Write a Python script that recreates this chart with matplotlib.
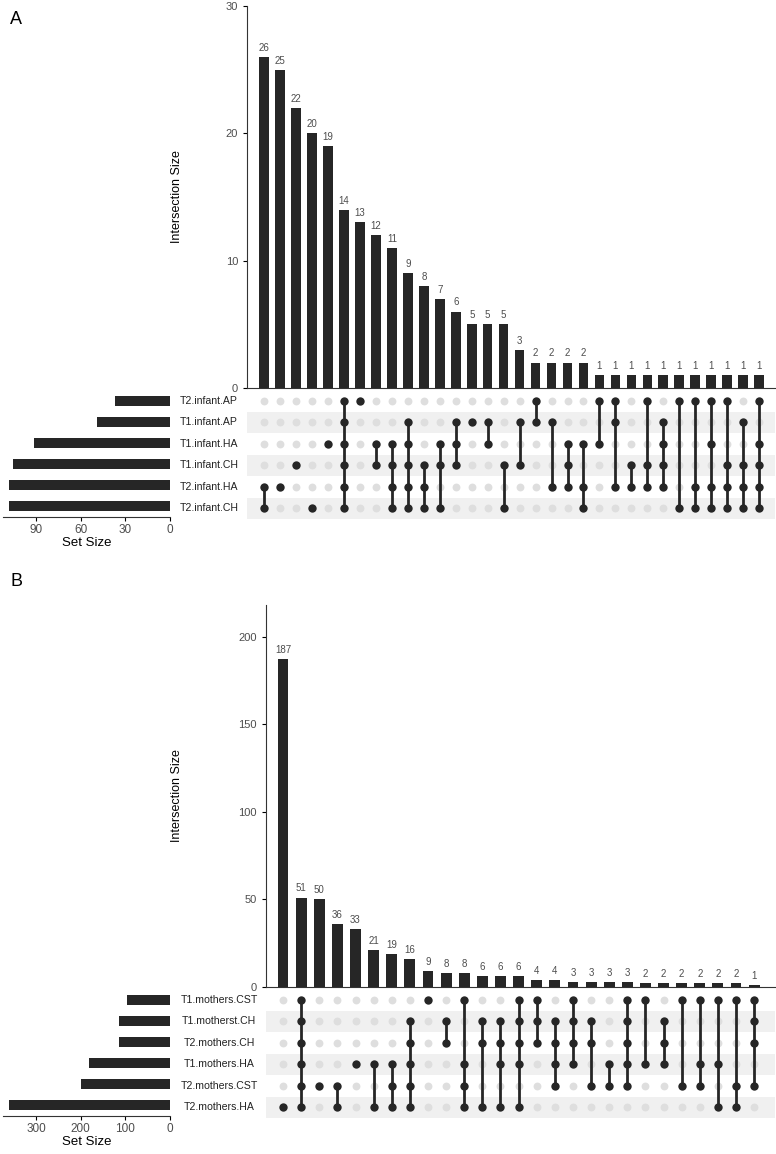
import matplotlib
matplotlib.use("Agg")
import matplotlib.pyplot as plt
import matplotlib.transforms as mtransforms

plt.rcParams["font.family"] = ["Liberation Sans", "DejaVu Sans"]

# ---- panel A data ----
sets_a = ["T2.infant.AP", "T1.infant.AP", "T1.infant.HA",
          "T1.infant.CH", "T2.infant.HA", "T2.infant.CH"]
set_size_a = [37, 49, 91, 105, 108, 108]
counts_a = [26, 25, 22, 20, 19, 14, 13, 12, 11, 9, 8, 7, 6, 5, 5, 5,
            3, 2, 2, 2, 2, 1, 1, 1, 1, 1, 1, 1, 1, 1, 1, 1]
# members = row indices into sets_a (top row = 0)
members_a = [[4, 5], [4], [3], [5], [2], [0, 1, 2, 3, 4, 5], [0], [2, 3],
             [2, 3, 4, 5], [1, 2, 3, 4, 5], [3, 4, 5], [2, 3, 5], [1, 2, 3],
             [1], [1, 2], [3, 5], [1, 3], [0, 1], [1, 4], [2, 3, 4], [2, 4, 5],
             [0, 2], [0, 1, 4], [3, 4], [0, 3, 4], [1, 2, 3, 4], [0, 5],
             [0, 4, 5], [0, 2, 4, 5], [0, 3, 4, 5], [1, 3, 4, 5], [0, 2, 3, 4, 5]]
yticks_a = [0, 10, 20, 30]
size_ticks_a = [90, 60, 30, 0]

# ---- panel B data ----
sets_b = ["T1.mothers.CST", "T1.motherst.CH", "T2.mothers.CH",
          "T1.mothers.HA", "T2.mothers.CST", "T2.mothers.HA"]
set_size_b = [96, 114, 114, 182, 200, 360]
counts_b = [187, 51, 50, 36, 33, 21, 19, 16, 9, 8, 8, 6, 6, 6, 4, 4,
            3, 3, 3, 3, 2, 2, 2, 2, 2, 2, 1]
members_b = [[5], [0, 1, 2, 3, 4, 5], [4], [4, 5], [3], [3, 5], [3, 4, 5],
             [1, 2, 3, 4, 5], [0], [1, 2], [0, 3, 4, 5], [1, 2, 5], [1, 2, 3, 5],
             [0, 1, 2, 3, 5], [0, 1, 2], [1, 2, 3, 4], [0, 1, 2, 3], [1, 2, 4],
             [3, 4], [0, 1, 2, 3, 4], [0, 3], [1, 2, 3], [0, 4], [0, 3, 4],
             [0, 3, 5], [0, 4, 5], [0, 1, 2, 4]]
yticks_b = [0, 50, 100, 150, 200]
size_ticks_b = [300, 200, 100, 0]

W, H = 776, 1154
DARK = "#262626"
GREY = "#4d4d4d"

fig = plt.figure(figsize=(W / 100, H / 100), dpi=100)


def box(left, top, right, bottom):
    return [left / W, 1 - bottom / H, (right - left) / W, (bottom - top) / H]


def upset(top, bar_bottom, mat_left, sets, set_sizes, counts, members,
          yticks, ymax, size_ticks, size_max, xpad, name_x, label_x):
    n = len(counts)
    mat_top = bar_bottom + 2
    mat_bottom = mat_top + 129
    xlim = (-xpad[0], n - 1 + xpad[1])

    # intersection bars
    ax = fig.add_axes(box(mat_left, top, 775, bar_bottom))
    xs = list(range(n))
    ax.bar(xs, counts, width=0.6, color=DARK)
    for x, c in zip(xs, counts):
        ax.annotate(str(c), (x, c), xytext=(0, 3), textcoords="offset points",
                    ha="center", va="bottom", fontsize=7, color=GREY)
    ax.set_xlim(*xlim)
    ax.set_ylim(0, ymax)
    ax.set_yticks(yticks)
    ax.set_xticks([])
    ax.tick_params(axis="y", length=3, width=0.8, labelsize=8, labelcolor=GREY)
    for s in ["top", "right"]:
        ax.spines[s].set_visible(False)
    for s in ["left", "bottom"]:
        ax.spines[s].set_linewidth(0.8)
        ax.spines[s].set_color("#333333")
    ax.set_ylabel("Intersection Size", fontsize=9)
    ax.yaxis.set_label_coords((label_x - mat_left) / (775 - mat_left), 0.5)

    # matrix
    mx = fig.add_axes(box(mat_left, mat_top, 775, mat_bottom))
    nrow = len(sets)
    for r in range(1, nrow, 2):
        mx.axhspan(r - 0.5, r + 0.5, color="#f0f0f0", lw=0)
    gx = [x for x in xs for r in range(nrow)]
    gy = [r for x in xs for r in range(nrow)]
    mx.scatter(gx, gy, s=32, color="#dedede", lw=0, zorder=2)
    for x, mem in zip(xs, members):
        if len(mem) > 1:
            mx.plot([x, x], [min(mem), max(mem)], color=DARK, lw=2, zorder=3)
        mx.scatter([x] * len(mem), mem, s=36, color=DARK, lw=0, zorder=4)
    mx.set_xlim(*xlim)
    mx.set_ylim(nrow - 0.5, -0.5)
    mx.axis("off")

    # set names
    tr = mtransforms.blended_transform_factory(fig.transFigure, mx.transData)
    for r, name in enumerate(sets):
        fig.text(name_x / W, r, name, transform=tr, ha="center", va="center",
                 fontsize=7.6, color="#222222")

    # set size bars
    sx = fig.add_axes(box(3, mat_top, 170, mat_bottom - 2))
    sx.barh(range(nrow), set_sizes, height=0.47, color=DARK)
    sx.set_ylim(nrow - 0.5, -0.5)
    sx.set_xlim(size_max, 0)
    sx.set_xticks(size_ticks)
    sx.set_yticks([])
    for s in ["top", "right", "left"]:
        sx.spines[s].set_visible(False)
    sx.spines["bottom"].set_linewidth(0.8)
    sx.spines["bottom"].set_color("#333333")
    sx.tick_params(axis="x", length=3, width=0.8, labelsize=8.5,
                   labelcolor=GREY, pad=2)
    sx.set_xlabel("Set Size", fontsize=9.5, labelpad=1)


upset(6, 388, 247, sets_a, set_size_a, counts_a, members_a,
      yticks_a, 30, size_ticks_a, 112, (1.08, 1.0), 209, 183)
upset(605, 987, 266, sets_b, set_size_b, counts_b, members_b,
      yticks_b, 218, size_ticks_b, 374, (0.94, 1.15), 219, 183)

fig.text(10 / W, 1 - 20 / H, "A", fontsize=13, va="center")
fig.text(10 / W, 1 - 582 / H, "B", fontsize=13, va="center")

fig.savefig("out.png", dpi=100)
